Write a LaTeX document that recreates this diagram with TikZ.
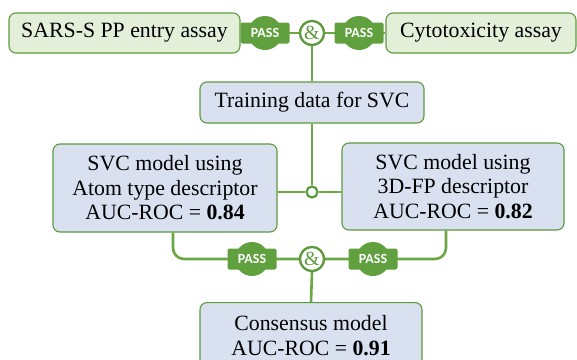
\documentclass[tikz,border=0pt]{standalone}
\usepackage{fontspec}
\setmainfont{Liberation Serif}
\newfontfamily\badgefont{Carlito}
\usetikzlibrary{calc}
\definecolor{lgreen}{HTML}{E3EFD9}
\definecolor{lblue}{HTML}{D9E1F1}
\definecolor{bgreen}{HTML}{5E9A3C}
\definecolor{cgreen}{HTML}{6AA843}
\definecolor{pgreen}{HTML}{60A03E}
\tikzset{
  box/.style={draw=bgreen, line width=1.1pt, rounded corners=7pt, align=center, font=\fontsize{21.8}{24.5}\selectfont, inner sep=0pt},
  gbox/.style={box, fill=lgreen},
  bbox/.style={box, fill=lblue},
  conn/.style={draw=cgreen, line width=2.6pt},
  andc/.style={circle, draw=bgreen, line width=2.2pt, fill=white, minimum size=24pt, inner sep=0pt, text=bgreen, font=\fontsize{20}{20}\selectfont},
  junc/.style={circle, draw=bgreen, line width=2.2pt, fill=white, minimum size=11pt, inner sep=0pt},
}
\newcommand{\passbadge}[2]{%
  \fill[pgreen] (#1) circle[radius=17];
  \fill[pgreen, rounded corners=2pt] ($(#1)+(-24.5,-10.5)$) rectangle ($(#1)+(24.5,10.5)$);
  \node[text=white, font=\badgefont\bfseries\fontsize{14}{14}\selectfont, inner sep=0pt] (#2) at (#1) {PASS};
}
\begin{document}
\begin{tikzpicture}[x=1pt,y=-1pt]
\useasboundingbox (0,0) rectangle (577,359);
% boxes
\node[gbox, minimum width=231pt, minimum height=40pt] (sars) at (124.5,33) {SARS-S PP entry assay};
\node[gbox, minimum width=190pt, minimum height=40pt] (cyto) at (481,33) {Cytotoxicity assay};
\node[bbox, minimum width=224pt, minimum height=41pt] (train) at (312,102.5) {Training data for SVC};
\node[bbox, minimum width=224pt, minimum height=88pt] (atom) at (165,188) {SVC model using\\Atom type descriptor\\AUC-ROC = \textbf{0.84}};
\node[bbox, minimum width=222pt, minimum height=87pt] (fp) at (453,186.5) {SVC model using\\3D-FP descriptor\\AUC-ROC = \textbf{0.82}};
\node[bbox, minimum width=222pt, minimum height=66pt, anchor=north] (cons) at (311,302) {Consensus model\\AUC-ROC = \textbf{0.91}};
% top junction
\coordinate (p1) at (265,33);
\coordinate (p2) at (359,33);
\node[andc] (and1) at (312,33) {\&};
\draw[conn] (sars.east) -- (and1.west);
\draw[conn] (and1.east) -- (cyto.west);
\draw[conn] (and1.south) -- (train.north);
\passbadge{p1}{pass1}
\passbadge{p2}{pass2}
\node[andc] (and1b) at (312,33) {\&};
% middle junction
\node[junc] (jn) at (312,192) {};
\draw[conn] (train.south) -- (jn.north);
\draw[conn] (atom.east |- jn) -- (jn.west);
\draw[conn] (jn.east) -- (fp.west |- jn);
% bottom junction
\coordinate (p3) at (252,259);
\coordinate (p4) at (373,259);
\node[andc] (and2) at (312,259) {\&};
\coordinate (bl) at (173,259);
\coordinate (br) at (446,259);
\draw[conn, rounded corners=11pt] (atom.south -| bl) -- (bl) -- (and2.west);
\draw[conn, rounded corners=11pt] (and2.east) -- (br) -- (fp.south -| br);
\draw[conn] (and2.south) -- (cons.north);
\passbadge{p3}{pass3}
\passbadge{p4}{pass4}
\node[andc] (and2b) at (312,259) {\&};
\end{tikzpicture}
\end{document}
